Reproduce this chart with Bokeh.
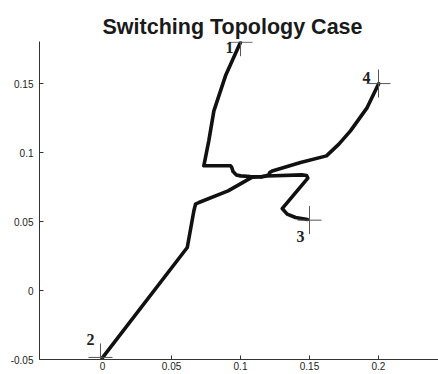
from bokeh.plotting import figure
from bokeh.models import ColumnDataSource, FixedTicker, Range1d
from bokeh.core.properties import value
from bokeh.embed import file_html
from bokeh.resources import INLINE

# --- data -------------------------------------------------------------
x1 = [0.100, 0.0891, 0.0807, 0.0770, 0.0734, 0.0928, 0.0936, 0.0946, 0.0970, 0.1000, 0.1070, 0.1150]
y1 = [0.180, 0.1556, 0.1302, 0.1085, 0.0904, 0.0904, 0.0893, 0.0862, 0.0838, 0.0831, 0.0826, 0.0825]

x2 = [0.0000, 0.0614, 0.0662, 0.0674, 0.0698, 0.0910, 0.1085, 0.1150]
y2 = [-0.0486, 0.0312, 0.0578, 0.0626, 0.0638, 0.0722, 0.0822, 0.0825]

x3 = [0.1485, 0.1399, 0.1338, 0.1302, 0.1488, 0.1478, 0.1445, 0.1190, 0.1150]
y3 = [0.0515, 0.0529, 0.0554, 0.0594, 0.0815, 0.0834, 0.0838, 0.0830, 0.0825]

x4 = [0.2002, 0.1918, 0.1797, 0.1713, 0.1623, 0.1435, 0.1230, 0.1212, 0.1205, 0.1180, 0.1150]
y4 = [0.1500, 0.1326, 0.1157, 0.1061, 0.0976, 0.0928, 0.0867, 0.0855, 0.0840, 0.0829, 0.0825]

cross_x = [0.100, -0.0015, 0.150, 0.200]
cross_y = [0.180, -0.0485, 0.051, 0.150]
cross_labels = ["1", "2", "3", "4"]

x_ticks = [0, 0.05, 0.1, 0.15, 0.2]
x_tick_labels = ["0", "0.05", "0.1", "0.15", "0.2"]
y_ticks = [-0.05, 0, 0.05, 0.1, 0.15]
y_tick_labels = ["-0.05", "0", "0.05", "0.1", "0.15"]

title_text = "Switching Topology Case"

# --- styles -----------------------------------------------------------
label_dx = [-7, -6, -5, -8]
label_dy = [5, -18, 16, -6]

p = figure(width=438, height=374, output_backend="svg", toolbar_location=None,
           x_range=Range1d(-0.0457, 0.2435), y_range=Range1d(-0.05, 0.1805),
           min_border_left=39, min_border_right=0, min_border_top=41, min_border_bottom=15,
           title=title_text)
p.title.text_font = "Liberation Sans"
p.title.text_font_size = "21.5px"
p.title.text_font_style = "bold"
p.title.text_color = "#1a1a1a"
p.title.align = "left"
p.title.offset = 63
p.title.standoff = 6

p.grid.visible = False
p.outline_line_color = None
p.background_fill_color = "white"
p.border_fill_color = "white"

for ax in (p.xaxis[0], p.yaxis[0]):
    ax.axis_line_color = "#333333"
    ax.major_tick_line_color = "#333333"
    ax.major_tick_in = 4
    ax.major_tick_out = 0
    ax.minor_tick_line_color = None
    ax.major_label_text_font = "Liberation Sans"
    ax.major_label_text_font_size = "10px"
    ax.major_label_text_color = "#222222"

p.xaxis.ticker = FixedTicker(ticks=x_ticks)
p.xaxis.major_label_overrides = {t: l for t, l in zip(x_ticks, x_tick_labels)}
p.xaxis.major_label_standoff = 2
p.yaxis.ticker = FixedTicker(ticks=y_ticks)
p.yaxis.major_label_overrides = {t: l for t, l in zip(y_ticks, y_tick_labels)}
p.yaxis.major_label_standoff = 6

for xs, ys in ((x1, y1), (x2, y2), (x3, y3), (x4, y4)):
    p.line(xs, ys, line_color="#111111", line_width=3.6, line_join="round", line_cap="round")

csrc = ColumnDataSource(dict(x=cross_x, y=cross_y, text=cross_labels, dx=label_dx, dy=label_dy))
p.scatter("x", "y", source=csrc, marker="dash", size=24, line_color="#555555", line_width=1)
p.scatter("x", "y", source=csrc, marker="dash", size=28, angle=1.5708, line_color="#555555", line_width=1)
p.text("x", "y", text="text", source=csrc, x_offset="dx", y_offset="dy",
       text_align="right", text_baseline="alphabetic",
       text_font=value("Liberation Serif"), text_font_style="bold",
       text_font_size="16px", text_color="#222222")

open("out.html", "w").write(file_html(p, INLINE))
